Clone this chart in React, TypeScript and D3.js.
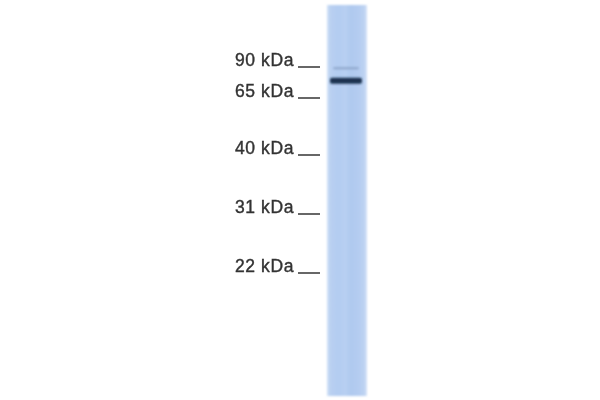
import { useRef, useEffect } from 'react';
import * as d3 from 'd3';

// marker ladder (kDa) and the labels shown beside it
const markerKda = [90, 65, 40, 31, 22];
const markerLabels = ['90 kDa', '65 kDa', '40 kDa', '31 kDa', '22 kDa'];

// bands detected in the single lane (kDa, relative intensity)
const bandKda = [79, 89];
const bandIntensity = [1, 0.25];

export default function App() {
  const svgRef = useRef<SVGSVGElement>(null);

  useEffect(() => {
    if (!svgRef.current) return;
    const svg = d3.select(svgRef.current);
    svg.selectAll('*').remove();

    const width = 600;
    const height = 400;
    svg.attr('viewBox', `0 0 ${width} ${height}`);

    // gel position of each marker (piecewise, gels are not log-linear here)
    const yScale = d3.scaleLinear().domain(markerKda).range([67, 98, 155, 214, 273]);

    const lane = { x: 327, w: 40, top: 5, bottom: 396 };

    const defs = svg.append('defs');
    const grad = defs.append('linearGradient').attr('id', 'laneGrad')
      .attr('x1', '0%').attr('x2', '100%').attr('y1', '0%').attr('y2', '0%');
    [
      [0, '#d2e2f7'], [0.08, '#b9d0f1'], [0.3, '#b3ccf1'], [0.45, '#b8d0f2'],
      [0.6, '#afc9ef'], [0.8, '#b5cdf1'], [0.93, '#bcd2f2'], [1, '#d6e4f8'],
    ].forEach(([o, c]) => grad.append('stop').attr('offset', o as number).attr('stop-color', c as string));

    const blur = defs.append('filter').attr('id', 'soft').attr('x', '-20%').attr('y', '-100%')
      .attr('width', '140%').attr('height', '300%');
    blur.append('feGaussianBlur').attr('stdDeviation', '1.2 1');
    const tblur = defs.append('filter').attr('id', 'tsoft');
    tblur.append('feGaussianBlur').attr('stdDeviation', 0.4);

    svg.append('rect').attr('width', width).attr('height', height).attr('fill', '#ffffff');

    // lane
    svg.append('rect')
      .attr('x', lane.x).attr('y', lane.top)
      .attr('width', lane.w).attr('height', lane.bottom - lane.top)
      .attr('fill', 'url(#laneGrad)')
      .attr('filter', 'url(#soft)');

    // bands
    const bandColor = d3.scaleLinear<string>().domain([0, 1]).range(['#b3ccf1', '#1a3150']);
    bandKda.forEach((k, i) => {
      const strong = bandIntensity[i] > 0.5;
      svg.append('rect')
        .attr('x', lane.x + (strong ? 3 : 6))
        .attr('y', yScale(k) - (strong ? 3 : 1))
        .attr('width', lane.w - (strong ? 8 : 14))
        .attr('height', strong ? 6 : 2)
        .attr('rx', 2)
        .attr('fill', bandColor(bandIntensity[i]))
        .attr('filter', 'url(#soft)');
    });

    // marker labels and ticks
    const mk = svg.append('g').attr('filter', 'url(#tsoft)');
    markerKda.forEach((k, i) => {
      const y = yScale(k);
      mk.append('text')
        .attr('x', 294).attr('y', y - 1.5)
        .attr('text-anchor', 'end')
        .attr('fill', '#333333')
        .attr('stroke', '#333333')
        .attr('stroke-width', 0.4)
        .style('font-family', '"Liberation Sans", Arial, sans-serif')
        .style('font-size', '17.5px')
        .style('letter-spacing', '0.6px')
        .text(markerLabels[i]);
      mk.append('line')
        .attr('x1', 298).attr('x2', 320)
        .attr('y1', y).attr('y2', y)
        .attr('stroke', '#555555').attr('stroke-width', 1.8);
    });
  }, []);

  return (
    <svg
      ref={svgRef}
      width={600}
      height={400}
      style={{ position: 'absolute', left: 0, top: 0, display: 'block' }}
    />
  );
}
